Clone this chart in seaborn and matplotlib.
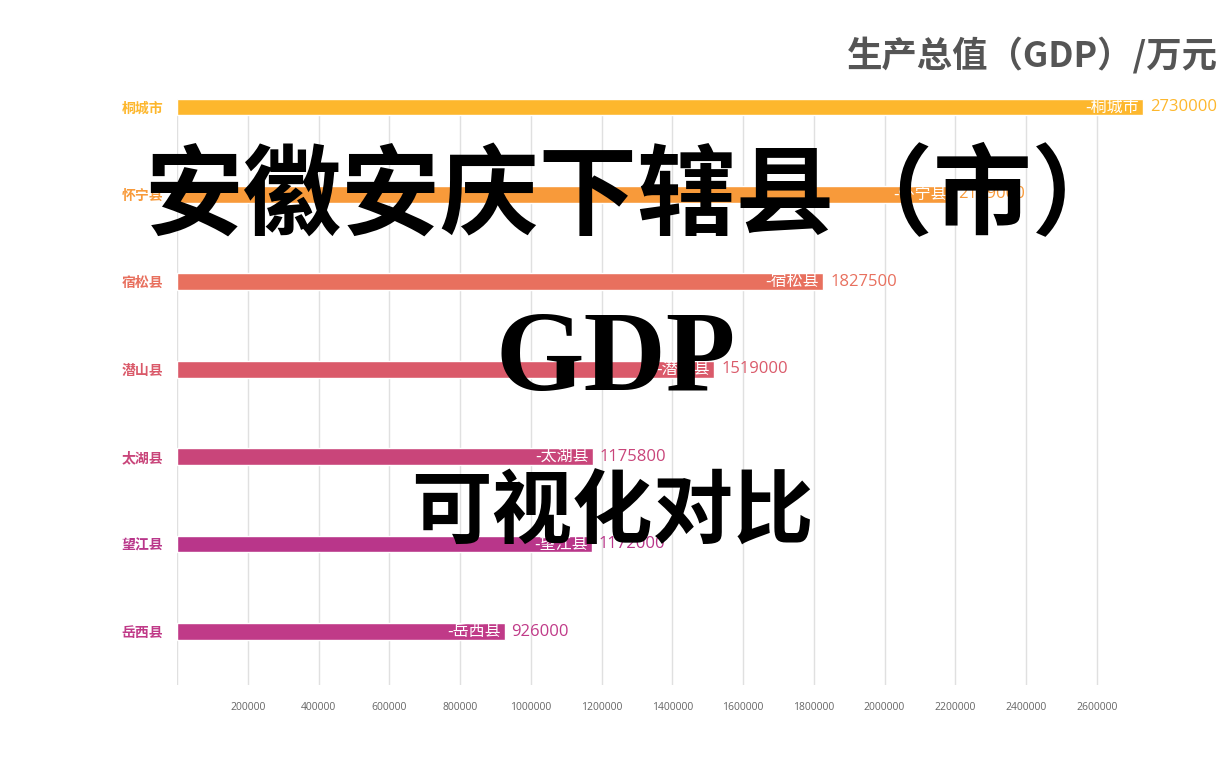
import matplotlib
matplotlib.use("Agg")
import matplotlib.pyplot as plt
import seaborn as sns
import pandas as pd

counties = ["桐城市", "怀宁县", "宿松县", "潜山县", "太湖县", "望江县", "岳西县"]
gdp = [2730000, 2189000, 1827500, 1519000, 1175800, 1172000, 926000]
colors = ["#FDB72D", "#F89A3A", "#E8705E", "#DA5A6A", "#C9457A", "#B9368A", "#C03A88"]
tick_values = [0, 200000, 400000, 600000, 800000, 1000000, 1200000, 1400000,
               1600000, 1800000, 2000000, 2200000, 2400000, 2600000]
tick_labels = [""] + [str(v) for v in tick_values[1:]]
unit_title = "生产总值（GDP）/万元"
overlay_1 = "安徽安庆下辖县（市）"
overlay_2 = "GDP"
overlay_3 = "可视化对比"

sns.set_theme(style="white")
plt.rcParams["font.family"] = ["Noto Sans CJK SC", "DejaVu Sans"]
num_font = ["Open Sans", "Noto Sans CJK SC", "DejaVu Sans"]

W, H = 1228, 768
fig = plt.figure(figsize=(W / 100, H / 100), dpi=100)
fig.patch.set_facecolor("white")
left, right, top, bottom = 177, 1167.5, 98.5, 685
ax = fig.add_axes([left / W, (H - bottom) / H, (right - left) / W, (bottom - top) / H])

df = pd.DataFrame({"county": counties, "gdp": gdp})
sns.barplot(data=df, x="gdp", y="county", hue="county", palette=colors,
            width=0.19, legend=False, ax=ax, saturation=1, zorder=3)

ax.set_xlim(0, 2800000)
ax.set_ylim(6.61, -0.095)
ax.set_xticks(tick_values)
ax.set_xticklabels(tick_labels, fontsize=7.5, color="#666666", family=num_font)
ax.tick_params(axis="x", length=0, pad=12)
ax.grid(axis="x", color="#e0e0e0", linewidth=1, zorder=0)
ax.grid(axis="y", visible=False)
for s in ax.spines.values():
    s.set_visible(False)
ax.set_xlabel("")
ax.set_ylabel("")
ax.set_yticks(range(len(counties)))
ax.set_yticklabels(counties, fontsize=10, fontweight="bold")
for lab, c in zip(ax.get_yticklabels(), colors):
    lab.set_color(c)
ax.tick_params(axis="y", length=0, pad=10)

for i, (name, v, c) in enumerate(zip(counties, gdp, colors)):
    ax.annotate("-" + name, xy=(v, i), xytext=(-3, 0), textcoords="offset points",
                ha="right", va="center", color="white", fontsize=11.5, zorder=4)
    ax.annotate(str(v), xy=(v, i), xytext=(5, 0), textcoords="offset points",
                ha="left", va="center", color=c, fontsize=12, zorder=4,
                family=num_font)

fig.text(1218 / W, 1 - 55 / H, unit_title, ha="right", va="center",
         fontsize=25.5, fontweight="bold", color="#555555")

fig.text(637 / W, 1 - 198 / H, overlay_1, ha="center", va="center",
         fontsize=71, fontweight="heavy", color="black")
fig.text(616 / W, 1 - 362 / H, overlay_2, ha="center", va="center",
         fontsize=82, fontweight="bold", color="black",
         family=["Liberation Serif", "DejaVu Serif"])
fig.text(612 / W, 1 - 514 / H, overlay_3, ha="center", va="center",
         fontsize=58, fontweight="bold", color="black")

fig.savefig("out.png", dpi=100, facecolor="white")
